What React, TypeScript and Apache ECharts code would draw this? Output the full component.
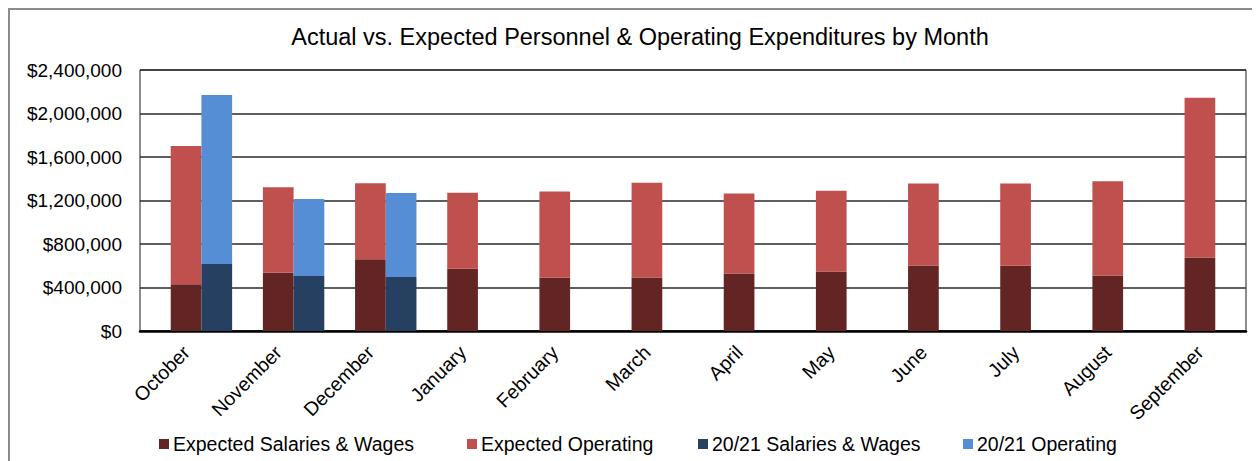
import React, { useEffect, useRef } from "react";
import * as echarts from "echarts";

const months = [
  "October", "November", "December", "January", "February", "March",
  "April", "May", "June", "July", "August", "September",
];
const expectedSalaries = [429000, 536000, 659000, 572000, 489000, 492000, 529000, 548000, 603000, 600000, 511000, 677000];
const expectedOperating = [1272000, 785000, 699000, 699000, 794000, 871000, 736000, 741000, 754000, 757000, 867000, 1468000];
const actualSalaries = [616000, 506000, 497000, null, null, null, null, null, null, null, null, null];
const actualOperating = [1554000, 708000, 772000, null, null, null, null, null, null, null, null, null];
const yTicks = { min: 0, max: 2400000, interval: 400000 };
const seriesNames = ["Expected Salaries & Wages", "Expected Operating", "20/21 Salaries & Wages", "20/21 Operating"];

const FONT = "'Liberation Sans', Arial, sans-serif";

export default function App() {
  const ref = useRef<HTMLDivElement>(null);
  useEffect(() => {
    if (!ref.current) return;
    const chart = echarts.init(ref.current, undefined, { renderer: "svg" });
    const bw = 30.7;
    const legendLefts = [151, 459, 690, 955];
    chart.setOption({
      animation: false,
      backgroundColor: "#fff",
      textStyle: { fontFamily: FONT },
      title: {
        text: "Actual vs. Expected Personnel & Operating Expenditures by Month",
        left: 627,
        textAlign: "center",
        top: 12,
        textStyle: { fontFamily: FONT, fontSize: 23.5, fontWeight: "normal", color: "#000" },
      },
      legend: seriesNames.map((n, i) => ({
        data: [n],
        left: legendLefts[i],
        top: 426,
        padding: 0,
        icon: "rect",
        itemWidth: 10,
        itemHeight: 10,
        textStyle: { fontFamily: FONT, fontSize: 19.5, color: "#000", padding: [0, 0, 0, -1] },
      })),
      graphic: [
        { type: "line", shape: { x1: 0, y1: 1, x2: 1260, y2: 1 }, style: { stroke: "#8c8c8c", lineWidth: 2 } },
        { type: "line", shape: { x1: 1, y1: 0, x2: 1, y2: 460 }, style: { stroke: "#8c8c8c", lineWidth: 2 } },
      ],
      grid: {
        left: 132,
        top: 62,
        width: 1106,
        height: 261,
        show: true,
        borderColor: "#1a1a1a",
        borderWidth: 1,
        backgroundColor: "transparent",
      },
      xAxis: {
        type: "category",
        data: months,
        axisLine: { show: true, lineStyle: { color: "#000", width: 2.5 } },
        axisTick: { show: false },
        axisLabel: {
          rotate: 45,
          margin: 18,
          interval: 0,
          fontFamily: FONT,
          fontSize: 19.5,
          color: "#000",
        },
      },
      yAxis: {
        type: "value",
        min: yTicks.min,
        max: yTicks.max,
        interval: yTicks.interval,
        axisLine: { show: false },
        axisTick: { show: false },
        splitLine: { show: true, lineStyle: { color: "#2a2a2a", width: 1.6 } },
        axisLabel: {
          margin: 18,
          fontFamily: FONT,
          fontSize: 19,
          color: "#000",
          formatter: (v: number) => "$" + v.toLocaleString("en-US"),
        },
      },
      series: [
        {
          name: "spacer",
          type: "bar",
          stack: "spacer",
          barWidth: bw,
          barGap: "0%",
          data: months.map(() => 0),
          itemStyle: { color: "rgba(0,0,0,0)" },
          silent: true,
        },
        {
          name: seriesNames[0],
          type: "bar",
          stack: "expected",
          barWidth: bw,
          barGap: "0%",
          data: expectedSalaries,
          itemStyle: { color: "#632523" },
        },
        {
          name: seriesNames[1],
          type: "bar",
          stack: "expected",
          barWidth: bw,
          barGap: "0%",
          data: expectedOperating,
          itemStyle: { color: "#C0504D" },
        },
        {
          name: seriesNames[2],
          type: "bar",
          stack: "actual",
          barWidth: bw,
          barGap: "0%",
          data: actualSalaries,
          itemStyle: { color: "#254061" },
        },
        {
          name: seriesNames[3],
          type: "bar",
          stack: "actual",
          barWidth: bw,
          barGap: "0%",
          data: actualOperating,
          itemStyle: { color: "#558ED5" },
        },
      ],
    });
    return () => chart.dispose();
  }, []);
  return <div ref={ref} style={{ width: 1252, height: 453 }} />;
}
